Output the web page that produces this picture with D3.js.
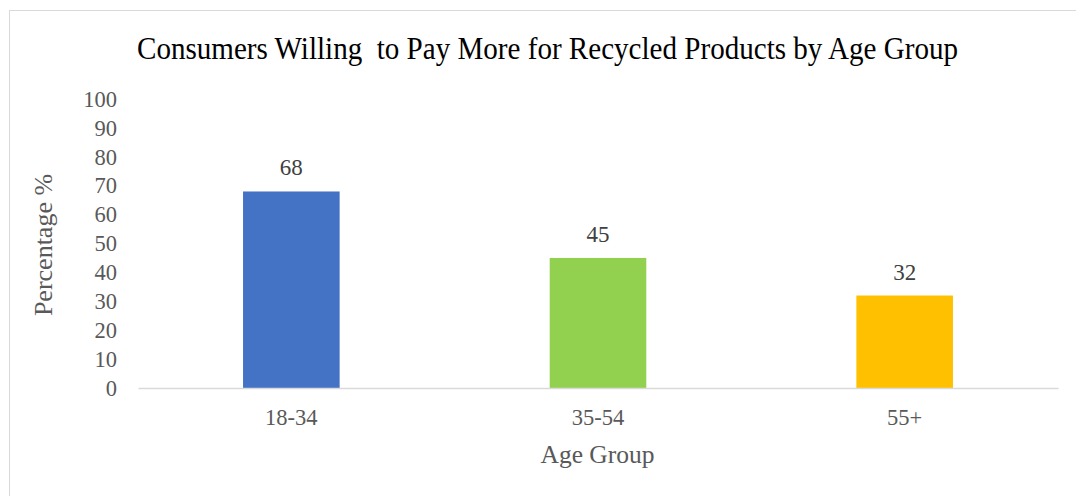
<!DOCTYPE html>
<html>
<head>
<meta charset="utf-8">
<script src="https://cdn.jsdelivr.net/npm/d3@7"></script>
<style>
  body { margin: 0; background: #fff; }
  svg text { font-family: "Liberation Serif", "Times New Roman", serif; }
</style>
</head>
<body>
<div id="chart"></div>
<script>
const width = 1076,
  height = 496,
  margin = { top: 99, bottom: 108, left: 138, right: 18 };

const categories = ["18-34", "35-54", "55+"];
const values = [68, 45, 32];
const colors = ["#4472C4", "#92D050", "#FFC000"];
const yTicks = [0, 10, 20, 30, 40, 50, 60, 70, 80, 90, 100];

const svg = d3.select("#chart")
  .append("svg")
  .attr("width", width)
  .attr("height", height);

// outer chart border (cut off at right and bottom)
svg.append("rect")
  .attr("x", 9.5)
  .attr("y", 10.5)
  .attr("width", width)
  .attr("height", height)
  .attr("fill", "none")
  .attr("stroke", "#D9D9D9");

const xScale = d3.scaleBand()
  .domain(categories)
  .range([margin.left, width - margin.right])
  .paddingInner(0.685)
  .paddingOuter(0.3425);

const yScale = d3.scaleLinear()
  .domain([0, 100])
  .range([height - margin.bottom, margin.top]);

svg.append("text")
  .attr("x", 547.5)
  .attr("y", 59)
  .attr("text-anchor", "middle")
  .attr("font-size", 31)
  .attr("textLength", 821)
  .attr("lengthAdjust", "spacingAndGlyphs")
  .attr("fill", "#000")
  .style("white-space", "pre")
  .text("Consumers Willing  to Pay More for Recycled Products by Age Group");

const yAxis = d3.axisLeft(yScale).tickValues(yTicks).tickSize(0).tickPadding(21);
svg.append("g")
  .attr("transform", `translate(${margin.left},0)`)
  .call(yAxis)
  .call(g => g.select(".domain").remove())
  .selectAll("text")
  .attr("font-size", 22.5)
  .attr("fill", "#595959");

svg.append("g")
  .selectAll("rect")
  .data(values)
  .join("rect")
  .attr("x", (d, i) => xScale(categories[i]))
  .attr("y", d => yScale(d))
  .attr("width", xScale.bandwidth())
  .attr("height", d => yScale(0) - yScale(d))
  .attr("fill", (d, i) => colors[i]);

const xAxis = d3.axisBottom(xScale).tickSize(0).tickPadding(21);
svg.append("g")
  .attr("transform", `translate(0,${yScale(0)})`)
  .call(xAxis)
  .call(g => g.select(".domain").attr("stroke", "#D9D9D9").attr("stroke-width", 1.5))
  .selectAll("text")
  .attr("font-size", 22.5)
  .attr("fill", "#595959");

svg.append("g")
  .selectAll("text")
  .data(values)
  .join("text")
  .attr("x", (d, i) => xScale(categories[i]) + xScale.bandwidth() / 2)
  .attr("y", d => yScale(d) - 16)
  .attr("text-anchor", "middle")
  .attr("font-size", 23)
  .attr("fill", "#404040")
  .text(d => d);

svg.append("text")
  .attr("x", 597.5)
  .attr("y", 463)
  .attr("text-anchor", "middle")
  .attr("font-size", 25.5)
  .attr("fill", "#595959")
  .text("Age Group");

svg.append("text")
  .attr("transform", "translate(52,245) rotate(-90)")
  .attr("text-anchor", "middle")
  .attr("font-size", 26)
  .attr("fill", "#595959")
  .text("Percentage %");
</script>
</body>
</html>
